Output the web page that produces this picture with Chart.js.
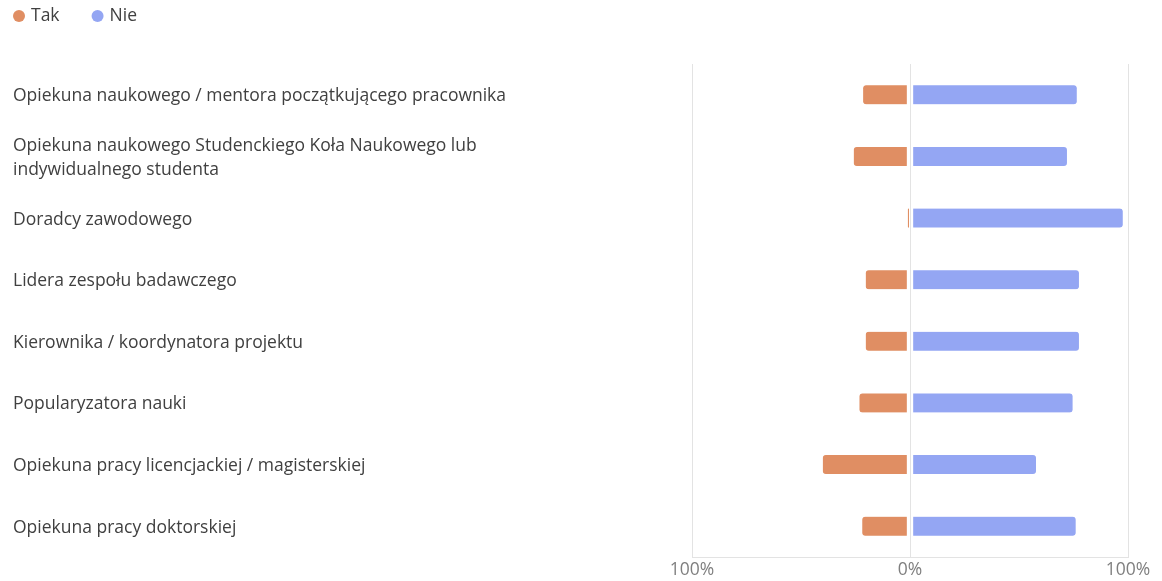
<!DOCTYPE html>
<html>
<head>
<meta charset="utf-8">
<script src="https://cdn.jsdelivr.net/npm/chart.js@4/dist/chart.umd.min.js"></script>
<style>
  html, body { margin: 0; padding: 0; background: #fff; }
  #wrap { width: 1162px; height: 581px; position: relative; }
</style>
</head>
<body>
<div id="wrap"><canvas id="roleChart"></canvas></div>
<script>
var categories = [
  'Opiekuna naukowego / mentora początkującego pracownika',
  ['Opiekuna naukowego Studenckiego Koła Naukowego lub', 'indywidualnego studenta'],
  'Doradcy zawodowego',
  'Lidera zespołu badawczego',
  'Kierownika / koordynatora projektu',
  'Popularyzatora nauki',
  'Opiekuna pracy licencjackiej / magisterskiej',
  'Opiekuna pracy doktorskiej'
];
var seriesNames = ['Tak', 'Nie'];
var seriesColors = ['#e08e63', '#94a6f3'];
// percent of answers, "Tak" is drawn to the left of zero
var takValues = [21.5, 25.8, 1, 20.3, 20.3, 23.2, 40, 21.9];
var nieValues = [76.5, 72, 97.6, 77.5, 77.5, 74.6, 57.8, 76];
var axisMin = -100;
var axisMax = 100;
var axisStep = 100;

var fontFamily = '"Open Sans", "Noto Sans", sans-serif';

// simple legend in the top-left corner (round markers)
var topLegend = {
  id: 'topLegend',
  afterDraw: function(chart) {
    var ctx = chart.ctx;
    var x = 13;
    ctx.save();
    ctx.font = '17.5px ' + fontFamily;
    ctx.textBaseline = 'middle';
    chart.data.datasets.forEach(function(ds) {
      ctx.fillStyle = ds.backgroundColor;
      ctx.beginPath();
      ctx.arc(x + 6, 16, 6, 0, Math.PI * 2);
      ctx.fill();
      ctx.fillStyle = '#404040';
      ctx.fillText(ds.label, x + 18, 16);
      x += 18 + ctx.measureText(ds.label).width + 32;
    });
    ctx.restore();
  }
};

var ctx = document.getElementById('roleChart');
var roleChart = new Chart(ctx, {
  type: 'bar',
  data: {
    labels: categories,
    datasets: [{
      label: seriesNames[0],
      data: takValues.map(function(v) { return -v; }),
      backgroundColor: seriesColors[0],
      borderColor: 'rgba(0,0,0,0)',
      borderWidth: {top: 0, right: 3, bottom: 0, left: 0},
      borderSkipped: false,
      borderRadius: 3,
      barThickness: 19
    }, {
      label: seriesNames[1],
      data: nieValues,
      backgroundColor: seriesColors[1],
      borderColor: 'rgba(0,0,0,0)',
      borderWidth: {top: 0, right: 0, bottom: 0, left: 3},
      borderSkipped: false,
      borderRadius: 3,
      barThickness: 19
    }]
  },
  options: {
    indexAxis: 'y',
    responsive: true,
    maintainAspectRatio: false,
    animation: false,
    layout: {
      padding: {top: 64, left: 13, right: 34, bottom: -3}
    },
    plugins: {
      legend: {display: false},
      tooltip: {
        callbacks: {
          label: function(item) {
            return item.dataset.label + ': ' + Math.abs(item.raw) + '%';
          }
        }
      }
    },
    scales: {
      x: {
        stacked: true,
        min: axisMin,
        max: axisMax,
        grid: {color: '#e3e3e3', drawTicks: false},
        border: {color: '#e3e3e3'},
        ticks: {
          stepSize: axisStep,
          padding: 3,
          color: '#7f7f7f',
          font: {family: fontFamily, size: 17.5, lineHeight: 1.2},
          callback: function(v) { return Math.abs(v) + '%'; }
        }
      },
      y: {
        stacked: true,
        grid: {display: false},
        border: {color: '#e3e3e3'},
        ticks: {
          crossAlign: 'far',
          autoSkip: false,
          labelOffset: 1.5,
          color: '#404040',
          font: {family: fontFamily, size: 17.5, lineHeight: 1.37}
        },
        afterFit: function(scale) { scale.width = 679; }
      }
    }
  },
  plugins: [topLegend]
});
</script>
</body>
</html>
